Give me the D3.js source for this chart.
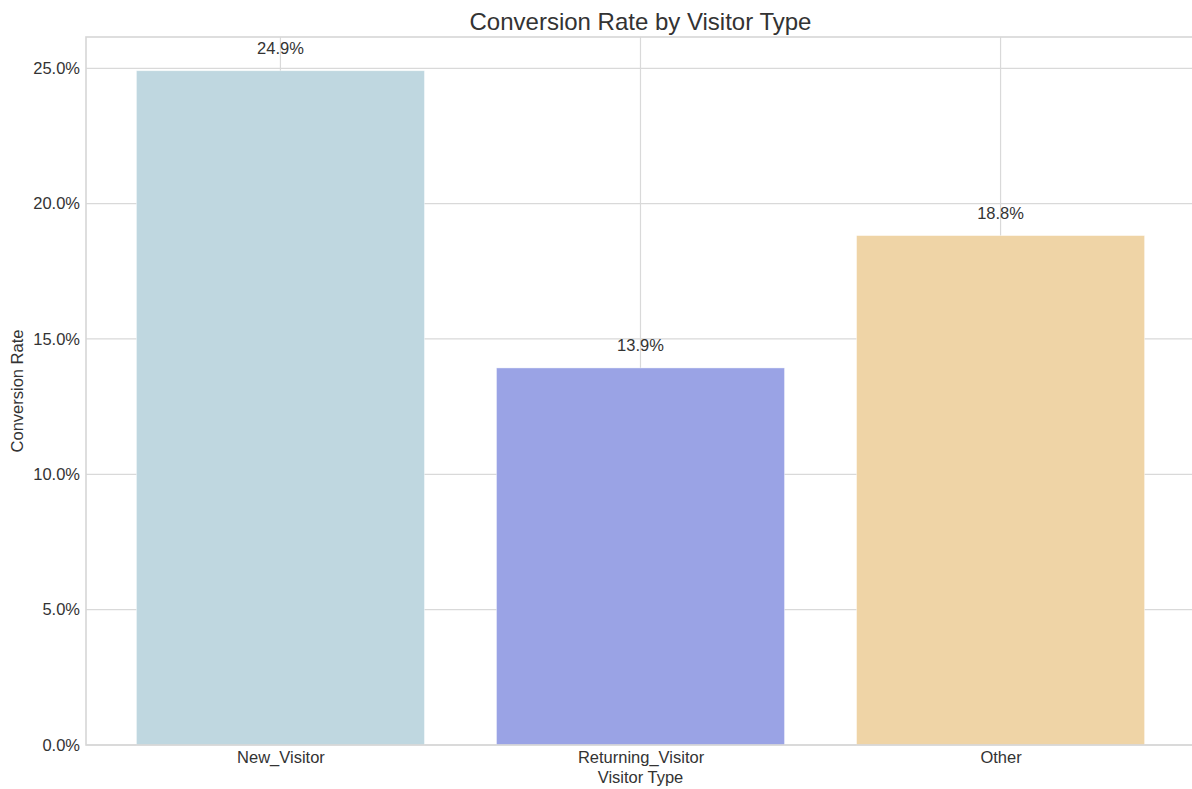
<!DOCTYPE html>
<html>
<head>
<meta charset="utf-8">
<script src="https://cdn.jsdelivr.net/npm/d3@7"></script>
<style>
  html, body { margin: 0; padding: 0; background: #fff; }
  svg { display: block; font-family: Arial, "Liberation Sans", sans-serif; }
</style>
</head>
<body>
<svg id="chart" width="1192" height="789"></svg>
<script>
// Conversion rate (%) per visitor type
const categories = ["New_Visitor", "Returning_Visitor", "Other"];
const rates = [24.91, 13.93, 18.82];
const barColors = ["#bfd7e0", "#9aa3e5", "#efd4a6"];
const yTicks = [0, 5, 10, 15, 20, 25];

const svg = d3.select("#chart");
const W = 1192, H = 789;
const margin = { left: 86, top: 37, bottom: 44 };
const plotRight = 1195; // frame runs just past the page edge
const plotBottom = H - margin.bottom;
const fontSize = 16.5;
const textColor = "#333333";

// Category positions as a linear index so bars are 0.8 wide with 5% padding
const x = d3.scaleLinear()
  .domain([-0.54, categories.length - 1 + 0.54])
  .range([margin.left, plotRight]);
const barW = x(0.8) - x(0);

const y = d3.scaleLinear()
  .domain([0, d3.max(rates) * 1.05])
  .range([plotBottom, margin.top]);

const g = svg.append("g");

// Grid lines
g.append("g")
  .selectAll("line")
  .data(yTicks)
  .join("line")
  .attr("x1", margin.left).attr("x2", plotRight)
  .attr("y1", d => y(d)).attr("y2", d => y(d))
  .attr("stroke", "#d9d9d9").attr("stroke-width", 1.2);

g.append("g")
  .selectAll("line")
  .data(categories)
  .join("line")
  .attr("x1", (d, i) => x(i)).attr("x2", (d, i) => x(i))
  .attr("y1", margin.top).attr("y2", plotBottom)
  .attr("stroke", "#d9d9d9").attr("stroke-width", 1.2);

// Bars
g.append("g")
  .selectAll("rect")
  .data(rates)
  .join("rect")
  .attr("x", (d, i) => x(i) - barW / 2)
  .attr("width", barW)
  .attr("y", d => y(d))
  .attr("height", d => plotBottom - y(d))
  .attr("fill", (d, i) => barColors[i])
  .attr("stroke", "#ffffff").attr("stroke-opacity", 0.5).attr("stroke-width", 0.8);

// Value labels
g.append("g")
  .selectAll("text")
  .data(rates)
  .join("text")
  .attr("x", (d, i) => x(i))
  .attr("y", d => y(d) - 17)
  .attr("text-anchor", "middle")
  .attr("font-size", fontSize)
  .attr("fill", textColor)
  .text(d => d.toFixed(1) + "%");

// Frame
g.append("rect")
  .attr("x", margin.left).attr("y", margin.top)
  .attr("width", plotRight - margin.left)
  .attr("height", plotBottom - margin.top)
  .attr("fill", "none")
  .attr("stroke", "#d6d6d6").attr("stroke-width", 1.6);

// Y axis tick labels
const yAxis = d3.axisLeft(y).tickValues(yTicks).tickSize(0).tickPadding(6)
  .tickFormat(d => d.toFixed(1) + "%");
const ya = svg.append("g").attr("transform", `translate(${margin.left},0)`).call(yAxis);
ya.select(".domain").remove();
ya.selectAll("text").attr("font-size", fontSize).attr("fill", textColor)
  .attr("font-family", "Arial, 'Liberation Sans', sans-serif");

// X axis tick labels
const xAxis = d3.axisBottom(x).tickValues(categories.map((d, i) => i)).tickSize(0).tickPadding(6)
  .tickFormat(i => categories[i]);
const xa = svg.append("g").attr("transform", `translate(0,${plotBottom})`).call(xAxis);
xa.select(".domain").remove();
xa.selectAll("text").attr("font-size", fontSize).attr("fill", textColor)
  .attr("font-family", "Arial, 'Liberation Sans', sans-serif");

// Axis titles
svg.append("text")
  .attr("x", x(1)).attr("y", 783)
  .attr("text-anchor", "middle")
  .attr("font-size", fontSize).attr("fill", textColor)
  .text("Visitor Type");

svg.append("text")
  .attr("transform", `translate(23,${(margin.top + plotBottom) / 2}) rotate(-90)`)
  .attr("text-anchor", "middle")
  .attr("font-size", fontSize).attr("fill", textColor)
  .text("Conversion Rate");

// Title
svg.append("text")
  .attr("x", (margin.left + plotRight) / 2).attr("y", 30)
  .attr("text-anchor", "middle")
  .attr("font-size", 24).attr("fill", textColor)
  .text("Conversion Rate by Visitor Type");
</script>
</body>
</html>
